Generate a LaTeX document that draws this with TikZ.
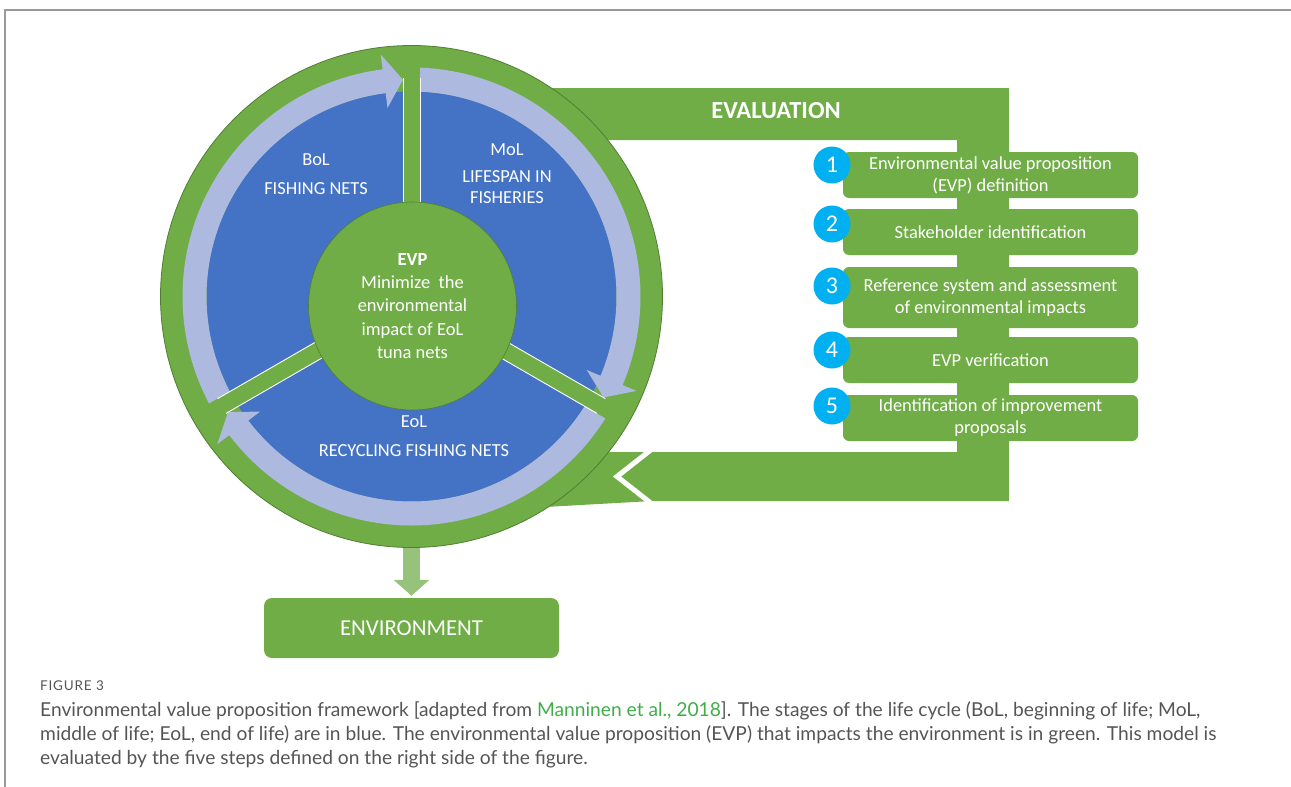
\documentclass[tikz,border=0pt]{standalone}
\usepackage{fontspec}
\setmainfont{Carlito}
\newfontfamily\capfont{Lato}
\newfontfamily\captitlefont[LetterSpace=6]{Lato}
\usetikzlibrary{arrows.meta}

\definecolor{evpgreen}{HTML}{70AD47}
\definecolor{rimgreen}{HTML}{507E32}
\definecolor{stageblue}{HTML}{4472C4}
\definecolor{cyclearrow}{HTML}{ADB9DE}
\definecolor{stepcyan}{HTML}{00B0F0}
\definecolor{outarrow}{HTML}{97C27B}
\definecolor{capgray}{HTML}{555555}
\definecolor{linkgreen}{HTML}{3FAE49}

\tikzset{
  stage/.style={text=white, align=center, font=\fontsize{18.4}{21}\selectfont},
  stepbox/.style={fill=evpgreen, rounded corners=6pt, minimum width=295pt,
    minimum height=46pt, inner sep=0pt, text=white, align=center,
    font=\fontsize{18.4}{22}\selectfont},
  num/.style={circle, fill=stepcyan, minimum size=37pt, inner sep=0pt,
    text=white, font=\fontsize{24}{24}\selectfont},
  captext/.style={anchor=base west, inner sep=0pt, text=capgray,
    font=\capfont\fontsize{19.2}{22}\selectfont},
  captitle/.style={anchor=base west, inner sep=0pt, text=capgray,
    font=\captitlefont\fontsize{13.5}{15}\selectfont},
}

\begin{document}
\begin{tikzpicture}[x=1pt,y=1pt]
	\useasboundingbox (0,0) rectangle (1291,-787);
	\draw[gray!80, line width=1.2pt] (5,-787) -- (5,-10) -- (1291,-10);

	% evaluation loop, behind the wheel
	\fill[evpgreen] (540,-88) -- (1009,-88) -- (1009,-501) -- (652,-501) -- (545,-507)
		-- (545,-452) -- (957,-452) -- (957,-140) -- (540,-140) -- cycle;
	\node[text=white, font=\bfseries\fontsize{24.5}{25}\selectfont] (evaltitle) at (776,-111) {EVALUATION};
	\draw[white, line width=5pt] (652,-449) -- (617,-476.5) -- (652,-504);

	% wheel
	\coordinate (C) at (411.5,-296.5);
	\node[circle, fill=evpgreen, draw=rimgreen, line width=0.8pt, minimum size=502pt,
		inner sep=0pt, outer sep=0pt] (wheel) at (C) {};
	\fill[stageblue] (C) circle[radius=205];
	\begin{scope}[shift={(C)}]
		\foreach \a/\b in {210/92.25, 90/-27.75, -30/-147.75}{
			\fill[cyclearrow] (\a:229) arc[start angle=\a, end angle=\b+5, radius=229]
				-- ({\b+5}:244) -- (\b:217) -- ({\b+5}:190) -- ({\b+5}:205)
				arc[start angle=\b+5, end angle=\a, radius=205] -- cycle;
		}
		\foreach \a in {90,210,330}{
			\fill[evpgreen, rotate=\a] (0,-8.5) rectangle (238,8.5);
			\draw[white, line width=0.9pt, rotate=\a] (95,8.5) -- (219,8.5) (95,-8.5) -- (219,-8.5);
		}
	\end{scope}
	\node[circle, fill=evpgreen, draw=rimgreen, line width=0.6pt, minimum size=208pt,
		inner sep=0pt, text=white, align=center, font=\fontsize{18.5}{23.3}\selectfont]
		(evp) at (412.5,-306) {\textbf{EVP}\\Minimize\ \ the\\environmental\\impact of EoL\\tuna nets};

	\node[stage] (bol) at (316,-174) {BoL\\[8pt]FISHING NETS};
	\node[stage] (mol) at (507,-174) {MoL\\[6pt]LIFESPAN IN\\FISHERIES};
	\node[stage] (eol) at (414,-436.5) {EoL\\[8pt]RECYCLING FISHING NETS};

	% evaluation steps
	\node[stepbox] (step1) at (990.5,-175) {Environmental value proposition\\(EVP) definition};
	\node[stepbox] (step2) at (990.5,-232) {Stakeholder identification};
	\node[stepbox, minimum height=61pt] (step3) at (990.5,-297.5) {Reference system and assessment\\of environmental impacts};
	\node[stepbox] (step4) at (990.5,-360) {EVP verification};
	\node[stepbox] (step5) at (990.5,-418) {Identification of improvement\\proposals};
	\foreach \i/\y in {1/165,2/224,3/286,4/350,5/406}
		\node[num] (n\i) at (832,-\y) {\i};

	% output
	\node[fill=evpgreen, rounded corners=8pt, minimum width=295pt, minimum height=60pt,
		text=white, font=\fontsize{22.8}{23}\selectfont] (env) at (411.5,-628) {ENVIRONMENT};
	\draw[outarrow, line width=17pt, -{Triangle[width=35pt, length=16pt]}, shorten >=2pt]
		(wheel.south) -- (env.north);

	% caption
	\node[captitle] (figno) at (40,-690) {FIGURE 3};
	\node[captext] (cap1) at (40,-716) {Environmental value proposition framework [adapted from \textcolor{linkgreen}{Manninen et al., 2018}]. The stages of the life cycle (BoL, beginning of life; MoL,};
	\node[captext] (cap2) at (40,-740) {middle of life; EoL, end of life) are in blue. The environmental value proposition (EVP) that impacts the environment is in green. This model is};
	\node[captext] (cap3) at (40,-764) {evaluated by the five steps defined on the right side of the figure.};
\end{tikzpicture}
\end{document}
